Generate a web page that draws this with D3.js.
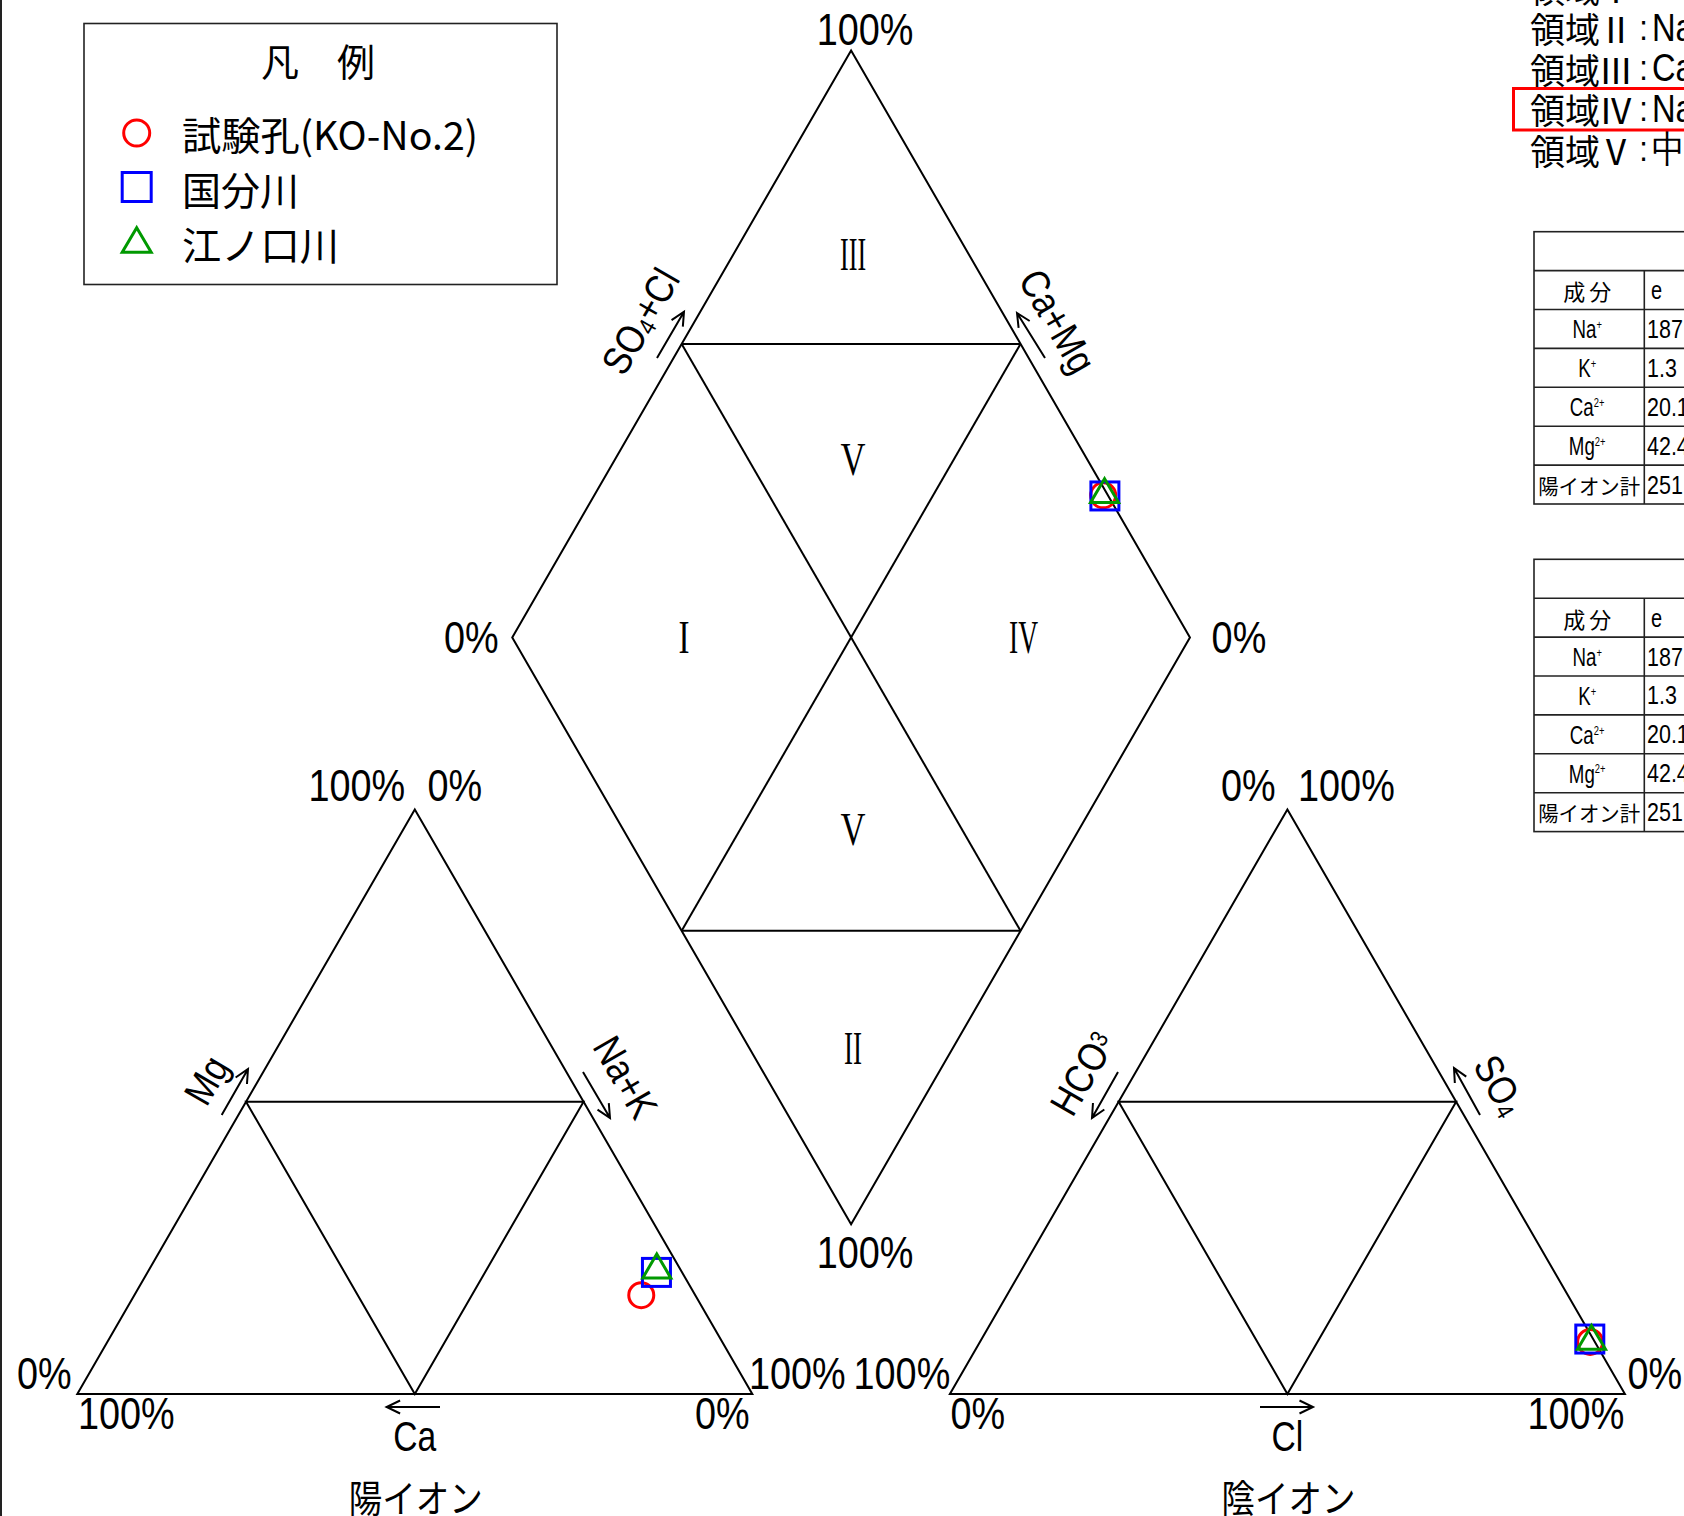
<!DOCTYPE html>
<html>
<head>
<meta charset="utf-8">
<script src="https://cdn.jsdelivr.net/npm/d3@7"></script>
<style>
  html, body { margin: 0; padding: 0; background: #fff; overflow: hidden; }
  svg { display: block; }
</style>
</head>
<body>
<script>
// ---- Samples -------------------------------------------------------------
const sampleNames  = ["試験孔(KO-No.2)", "国分川", "江ノ口川"];
const sampleColors = ["#ff0000", "#0000ff", "#009900"];
const sampleShapes = ["circle", "square", "triangle"];

// Cation composition (% of cation total)
const nakPct = [75.1, 75.4, 74.9];
const caPct  = [8.0, 3.8, 3.2];
const mgPct  = [16.9, 20.8, 21.9];

// Anion composition (% of anion total)
const hco3Pct = [0.7, 0.5, 0.1];
const clPct   = [90.4, 90.1, 90.2];
const so4Pct  = [8.9, 9.4, 9.7];

// Analysis table (epm)
const tableIons    = ["Na", "K", "Ca", "Mg"];
const tableCharges = ["+", "+", "2+", "2+"];
const tableEpm     = [187.5, 1.3, 20.1, 42.4];
const tableTotal   = 251.3;

// Axis ticks and region names
const pctTicks       = ["0%", "100%"];
const regionNumerals = ["I", "II", "III", "IV", "V"];
const regionGlyphs   = ["Ⅰ", "Ⅱ", "Ⅲ", "Ⅳ", "Ⅴ"];
const regionTypes    = ["Ca-HCO₃型", "Na-HCO₃型", "Ca-SO₄・Cl型", "Na-SO₄・Cl型", "中間型"];

// ---- Layout --------------------------------------------------------------
const W = 1684, HT = 1516;
const LAT = "'Liberation Sans', Arial, sans-serif";
const JP = "'Noto Sans CJK JP', sans-serif";
const SERIF = "'Liberation Serif', serif";

const svg = d3.select("body").append("svg")
  .attr("width", W).attr("height", HT)
  .attr("viewBox", `0 0 ${W} ${HT}`);

svg.append("rect").attr("width", W).attr("height", HT).attr("fill", "#fff");
svg.append("line").attr("x1", 1).attr("x2", 1).attr("y1", 0).attr("y2", HT)
  .attr("stroke", "#222").attr("stroke-width", 2);

const L = 675, H = L * Math.sqrt(3) / 2;
const x0 = 77.3, yBase = 1394, gap = 197.6;

// ternary scales for the two triangles
const xCat = d3.scaleLinear().domain([0, 100]).range([x0, x0 + L]);
const xAn  = d3.scaleLinear().domain([0, 100]).range([x0 + L + gap, x0 + 2 * L + gap]);
const yTri = d3.scaleLinear().domain([0, 100]).range([yBase, yBase - H]);

// diamond scales
const dTop = 50.5, dBot = 1224.3;
const dHalfH = (dBot - dTop) / 2, dHalfW = dHalfH / Math.sqrt(3);
const xBot = x0 + L + gap / 2;
const xDia = d3.scaleLinear().domain([-100, 100]).range([xBot - dHalfW, xBot + dHalfW]);
const yDia = d3.scaleLinear().domain([0, 200]).range([dBot, dTop]);

const catPt = (nak, mg) => [xCat(nak + mg / 2), yTri(mg)];
const anPt  = (cl, so4) => [xAn(cl + so4 / 2), yTri(so4)];
const diaPt = (caMg, so4cl) => [xDia(so4cl - caMg), yDia(so4cl + caMg)];

const mid = (a, b) => [(a[0] + b[0]) / 2, (a[1] + b[1]) / 2];
const line = d3.line();
const frame = svg.append("g").attr("fill", "none").attr("stroke", "#000").attr("stroke-width", 2);

function drawTriangle(xs) {
  const A = [xs(0), yTri(0)], B = [xs(100), yTri(0)], C = [xs(50), yTri(100)];
  frame.append("path").attr("d", line([A, B, C]) + "Z");
  const mL = mid(A, C), mR = mid(B, C), mB = mid(A, B);
  frame.append("path").attr("d", line([mL, mR, mB]) + "Z");
  return { A, B, C };
}
const cat = drawTriangle(xCat);
const an  = drawTriangle(xAn);

const DB = [xDia(0), yDia(0)], DL = [xDia(-100), yDia(100)],
      DR = [xDia(100), yDia(100)], DT = [xDia(0), yDia(200)];
frame.append("path").attr("d", line([DB, DL, DT, DR]) + "Z");
const mUL = mid(DL, DT), mUR = mid(DR, DT), mLL = mid(DL, DB), mLR = mid(DR, DB);
frame.append("path").attr("d", line([mUL, mUR]));
frame.append("path").attr("d", line([mLL, mLR]));
frame.append("path").attr("d", line([mUL, mLR]));
frame.append("path").attr("d", line([mUR, mLL]));

// ---- Text helpers --------------------------------------------------------
// Latin labels use a horizontally condensed sans face; Japanese text is unscaled.
function label(x, y, parts, o = {}) {
  const size = o.size || 44;
  const fam = o.family || LAT;
  const latin = fam === LAT;
  const sx = o.sx || (latin ? 0.86 : 1);
  const t = svg.append("text")
    .attr("transform", `translate(${x},${y}) rotate(${o.rotate || 0}) scale(${sx},1)`)
    .attr("text-anchor", o.anchor || "middle")
    .style("font-family", fam)
    .style("font-size", size + "px")
    .attr("fill", o.fill || "#000");
  if (latin) t.attr("y", size * 0.36);
  else t.attr("dominant-baseline", "central");
  if (o.spacing) t.style("letter-spacing", o.spacing + "px");
  if (o.textLength) t.attr("textLength", o.textLength).attr("lengthAdjust", "spacingAndGlyphs");
  (Array.isArray(parts) ? parts : [parts]).forEach(p => {
    if (typeof p === "string") t.append("tspan").text(p);
    else t.append("tspan").text(p.t).style("font-size", (size * (p.scale || 0.62)) + "px")
      .attr("baseline-shift", p.shift || "0");
  });
  return t;
}

function arrow(x1, y1, x2, y2) {
  const a = Math.atan2(y2 - y1, x2 - x1), hl = 15, ha = 0.45;
  const p1 = [x2 - hl * Math.cos(a - ha), y2 - hl * Math.sin(a - ha)];
  const p2 = [x2 - hl * Math.cos(a + ha), y2 - hl * Math.sin(a + ha)];
  svg.append("path")
    .attr("d", `M${x1},${y1}L${x2},${y2}M${p1[0]},${p1[1]}L${x2},${y2}L${p2[0]},${p2[1]}`)
    .attr("fill", "none").attr("stroke", "#000").attr("stroke-width", 2);
}

// ---- Percent labels ------------------------------------------------------
const [P0, P100] = pctTicks;
label(DT[0] + 14, DT[1] - 21, P100);
label(DB[0] + 14, DB[1] + 28, P100);
label(DL[0] - 41, DL[1], P0);
label(DR[0] + 49, DR[1], P0);

label(cat.C[0] - 58, cat.C[1] - 24, P100);
label(cat.C[0] + 40, cat.C[1] - 24, P0);
label(cat.A[0] - 33, cat.A[1] - 21, P0);
label(cat.A[0] + 49, cat.A[1] + 19, P100);
label(cat.B[0] - 30, cat.B[1] + 19, P0);
label(cat.B[0] + 45, cat.B[1] - 21, P100);

label(an.C[0] - 39, an.C[1] - 24, P0);
label(an.C[0] + 59, an.C[1] - 24, P100);
label(an.A[0] - 48, an.A[1] - 21, P100);
label(an.A[0] + 28, an.A[1] + 19, P0);
label(an.B[0] - 49, an.B[1] + 19, P100);
label(an.B[0] + 30, an.B[1] - 21, P0);

// ---- Axis names ----------------------------------------------------------
label(640, 321, ["SO", { t: "4", shift: "-12%" }, "+Cl"], { size: 40, rotate: -60 });
arrow(657, 358, 684, 311.7);
label(1058, 321, "Ca+Mg", { size: 40, rotate: 60 });
arrow(1045, 358, 1017, 313);

label(206, 1080, "Mg", { size: 40, rotate: -60 });
arrow(221.7, 1115, 248, 1069);
label(626, 1077, "Na+K", { size: 40, rotate: 60 });
arrow(583, 1072, 610, 1118);

label(1082, 1073, ["HCO", { t: "3", shift: "35%" }], { size: 40, rotate: -60 });
arrow(1118, 1072, 1092, 1118);
label(1500, 1085, ["SO", { t: "4", shift: "-12%" }], { size: 40, rotate: 60 });
arrow(1480, 1115, 1454, 1068);

arrow(440, 1407, 386.6, 1407);
label(cat.C[0], 1436, "Ca", { size: 42, sx: 0.8 });
arrow(1260, 1407, 1313, 1407);
label(an.C[0], 1436, "Cl", { size: 42, sx: 0.8 });

label(cat.C[0] + 1, 1495, "陽イオン", { family: JP, size: 38, textLength: 134 });
label(an.C[0] + 1, 1495, "陰イオン", { family: JP, size: 38, textLength: 134 });

// ---- Region numerals in the diamond --------------------------------------
const cx = xDia(0), cy = yDia(100);
const regionPos = [[-167, 0], [2, 411], [2, -383.5], [172.5, 0], [2, -178.6], [2, 192]];
const regionIdx = [0, 1, 2, 3, 4, 4];
const numeralWidth = [11, 18, 26, 29, 25];
regionPos.forEach((p, i) => {
  const k = regionIdx[i];
  label(cx + p[0], cy + p[1], regionNumerals[k],
    { family: SERIF, size: 46, textLength: numeralWidth[k] });
});

// ---- Sample markers ------------------------------------------------------
function marker(g, shape, x, y, s, color) {
  const sw = 3;
  if (shape === "circle") {
    g.append("circle").attr("cx", x).attr("cy", y).attr("r", s / 2 - 1.5)
      .attr("fill", "none").attr("stroke", color).attr("stroke-width", sw);
  } else if (shape === "square") {
    g.append("rect").attr("x", x - s / 2).attr("y", y - s / 2).attr("width", s).attr("height", s)
      .attr("fill", "none").attr("stroke", color).attr("stroke-width", sw);
  } else {
    const h = s * 0.85;
    g.append("path").attr("d", line([[x, y - h / 2], [x + s / 2, y + h / 2], [x - s / 2, y + h / 2]]) + "Z")
      .attr("fill", "none").attr("stroke", color).attr("stroke-width", sw);
  }
}

const marks = svg.append("g");
sampleNames.forEach((name, i) => {
  const c = catPt(nakPct[i], mgPct[i]);
  const a = anPt(clPct[i], so4Pct[i]);
  const d = diaPt(caPct[i] + mgPct[i], so4Pct[i] + clPct[i]);
  [c, a, d].forEach(p => marker(marks, sampleShapes[i], p[0], p[1], 28, sampleColors[i]));
});

// ---- Legend --------------------------------------------------------------
svg.append("rect").attr("x", 84).attr("y", 23.5).attr("width", 473).attr("height", 261)
  .attr("fill", "none").attr("stroke", "#222").attr("stroke-width", 1.6);
label(318, 59, "凡　例", { family: JP, size: 38 });
const legendY = [133, 187, 240];
const legendTextY = [133, 188, 243];
const legendLen = [296, 117, 157];
sampleNames.forEach((name, i) => {
  marker(svg, sampleShapes[i], 136.7, legendY[i], 29, sampleColors[i]);
  label(182, legendTextY[i], name, { family: JP, size: 39, anchor: "start", textLength: legendLen[i] });
});

// ---- Region descriptions (top right) -------------------------------------
regionGlyphs.forEach((g, i) => {
  const y = -13.5 + i * 40.5;
  label(1530, y, "領域", { family: JP, size: 35, anchor: "start" });
  label(1616, y, g, { family: JP, size: 35 });
  label(1643.5, y, ":", { size: 36 });
  label(1652, y, regionTypes[i], { size: 38, anchor: "start" });
});
svg.append("rect").attr("x", 1513.5).attr("y", 88.5).attr("width", 200).attr("height", 41.5)
  .attr("fill", "none").attr("stroke", "#ff0000").attr("stroke-width", 3);

// ---- Analysis tables -----------------------------------------------------
function drawTable(top) {
  const rowH = 38.9, left = 1534, split = 1644.3, right = 1760;
  const g = svg.append("g").attr("stroke", "#222").attr("stroke-width", 1.6).attr("fill", "none");
  g.append("rect").attr("x", left).attr("y", top).attr("width", right - left).attr("height", rowH * 7);
  for (let r = 1; r < 7; r++)
    g.append("line").attr("x1", left).attr("x2", right).attr("y1", top + r * rowH).attr("y2", top + r * rowH);
  g.append("line").attr("x1", split).attr("x2", split).attr("y1", top + rowH).attr("y2", top + 7 * rowH);

  const cxT = (left + split) / 2;
  const rc = r => top + (r + 0.5) * rowH;
  label(cxT, rc(1), "成分", { family: JP, size: 22, spacing: 4 });
  label(1651, rc(1), "epm", { size: 25, anchor: "start", sx: 0.8, spacing: 28 });

  const fmt = d3.format(".1f");
  tableIons.forEach((ion, i) => {
    label(cxT - 2, rc(i + 2), [ion, { t: tableCharges[i], scale: 0.5, shift: "70%" }],
      { size: 26, sx: 0.72 });
    label(1647, rc(i + 2), fmt(tableEpm[i]), { size: 25, anchor: "start", sx: 0.86 });
  });
  label(cxT, rc(6), "陽イオン計", { family: JP, size: 21, textLength: 102 });
  label(1647, rc(6), fmt(tableTotal), { size: 25, anchor: "start", sx: 0.86 });
}
drawTable(231.7);
drawTable(559.3);
</script>
</body>
</html>
